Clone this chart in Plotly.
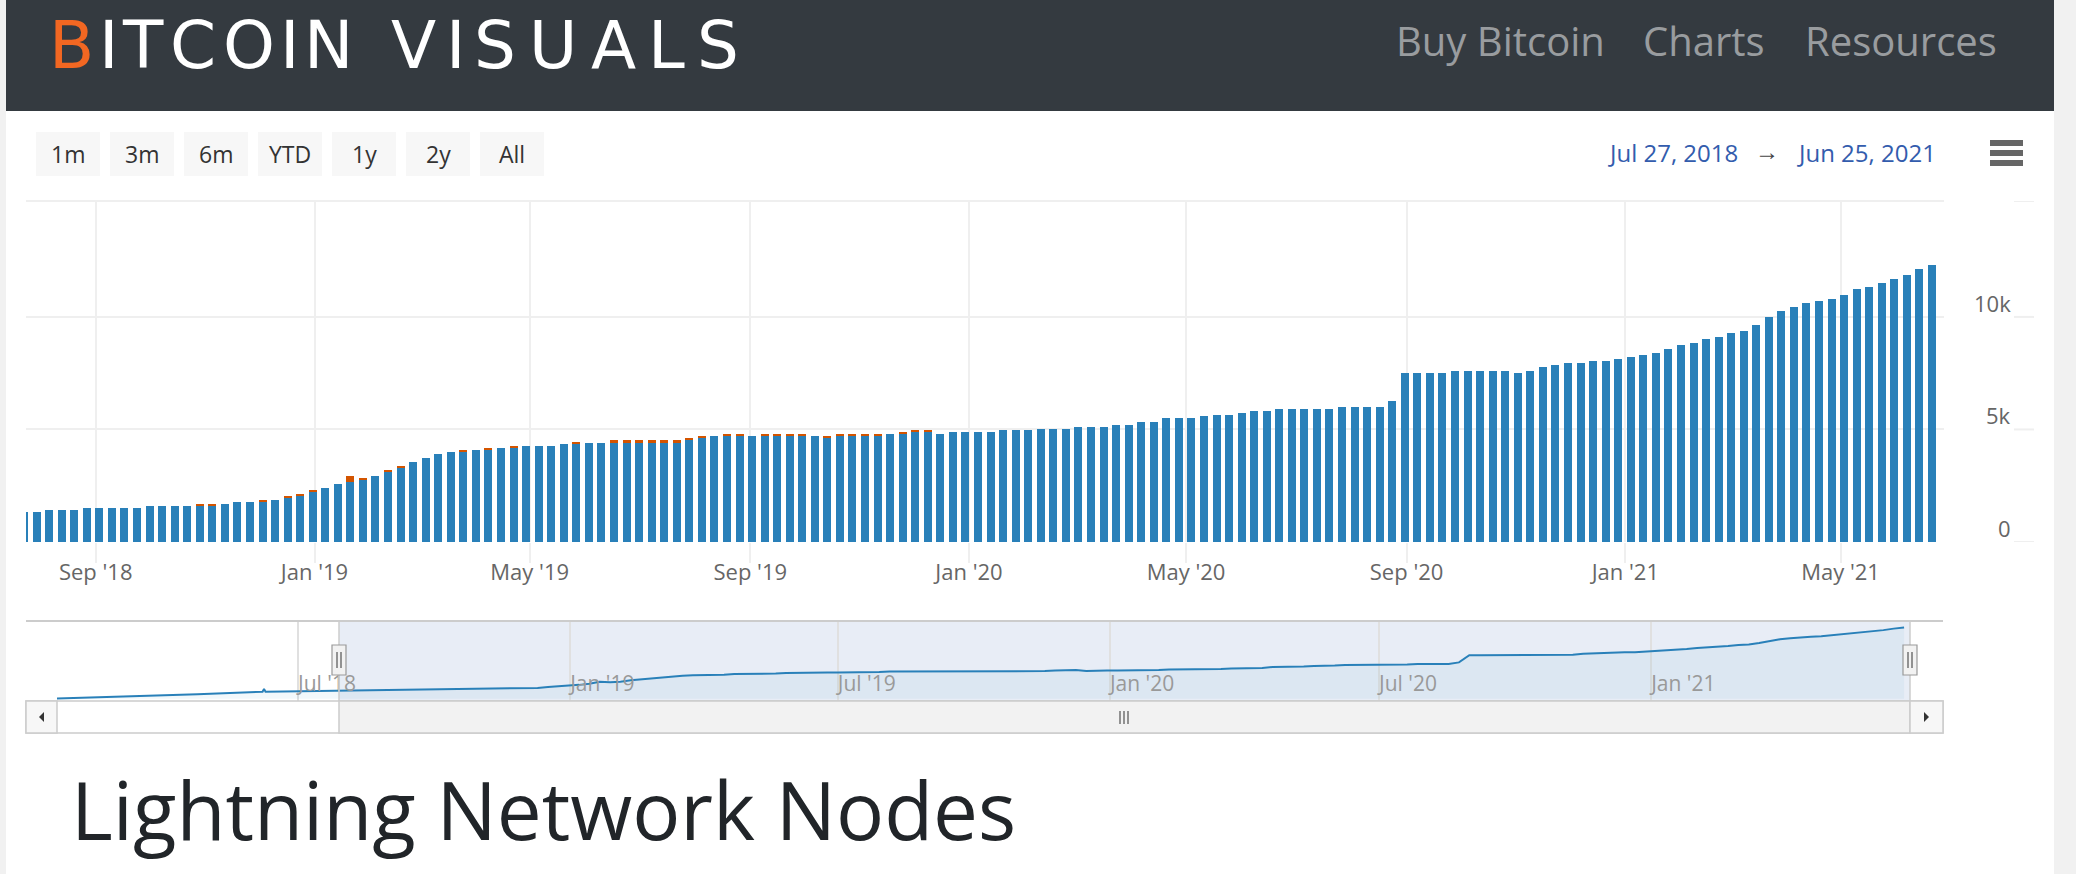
import plotly.graph_objects as go
import pandas as pd

# ---------------- data ----------------
first_week = "2018-07-23"   # Monday of the first weekly bar
n_weeks = 153

blue_nodes = [
    1330, 1330, 1420, 1420, 1420, 1500, 1500, 1500, 1500, 1500,
    1590, 1590, 1590, 1590, 1590, 1590, 1680, 1770, 1770, 1770,
    1860, 1950, 2040, 2210, 2390, 2570, 2650, 2740, 2920, 3100,
    3270, 3540, 3720, 3890, 3980, 3980, 4070, 4070, 4160, 4160,
    4250, 4250, 4250, 4340, 4340, 4420, 4420, 4420, 4420, 4420,
    4420, 4420, 4420, 4510, 4600, 4690, 4690, 4690, 4690, 4690,
    4690, 4690, 4690, 4690, 4600, 4690, 4690, 4690, 4690, 4780,
    4780, 4870, 4870, 4780, 4870, 4870, 4870, 4870, 4960, 4960,
    4960, 5040, 5040, 5040, 5130, 5130, 5130, 5220, 5220, 5310,
    5310, 5490, 5490, 5490, 5580, 5660, 5660, 5750, 5840, 5840,
    5930, 5930, 5930, 5930, 5930, 6020, 6020, 6020, 6020, 6280,
    7520, 7520, 7520, 7520, 7610, 7610, 7610, 7610, 7610, 7520,
    7610, 7790, 7880, 7970, 7970, 8050, 8050, 8140, 8230, 8320,
    8410, 8580, 8760, 8850, 9030, 9120, 9290, 9380, 9650, 10000,
    10270, 10440, 10620, 10710, 10800, 10970, 11240, 11330, 11500, 11680,
    11860, 12120, 12300,
]
orange_nodes = [
    0, 0, 0, 0, 0, 0, 0, 0, 0, 0,
    0, 0, 0, 0, 90, 90, 0, 0, 0, 90,
    0, 90, 90, 90, 0, 0, 270, 90, 0, 90,
    90, 0, 0, 0, 0, 90, 0, 90, 0, 90,
    0, 0, 0, 0, 90, 0, 0, 90, 90, 90,
    90, 90, 90, 90, 90, 0, 90, 90, 0, 90,
    90, 90, 90, 0, 90, 90, 90, 90, 90, 0,
    90, 90, 90, 0, 0, 0, 0, 0, 0, 0,
    0, 0, 0, 0, 0, 0, 0, 0, 0, 0,
    0, 0, 0, 0, 0, 0, 0, 0, 0, 0,
    0, 0, 0, 0, 0, 0, 0, 0, 0, 0,
    0, 0, 0, 0, 0, 0, 0, 0, 0, 0,
    0, 0, 0, 0, 0, 0, 0, 0, 0, 0,
    0, 0, 0, 0, 0, 0, 0, 0, 0, 0,
    0, 0, 0, 0, 0, 0, 0, 0, 0, 0,
    0, 0, 0,
]
# navigator line before the bars start (read from the navigator)
nav_pre_dates = ["2018-01-19", "2018-02-16", "2018-03-11", "2018-04-24",
                 "2018-06-07", "2018-06-08", "2018-06-09", "2018-07-01"]
nav_pre_vals = [30, 240, 350, 760, 1210, 1700, 1220, 1300]

main_tick_dates = ["2018-09-01", "2019-01-01", "2019-05-01", "2019-09-01", "2020-01-01",
                   "2020-05-01", "2020-09-01", "2021-01-01", "2021-05-01"]
main_tick_text = ["Sep '18", "Jan '19", "May '19", "Sep '19", "Jan '20",
                  "May '20", "Sep '20", "Jan '21", "May '21"]
nav_tick_dates = ["2018-07-01", "2019-01-01", "2019-07-01", "2020-01-01", "2020-07-01", "2021-01-01"]
nav_tick_text = ["Jul '18", "Jan '19", "Jul '19", "Jan '20", "Jul '20", "Jan '21"]
y_tick_vals = [0, 5000, 10000]
y_tick_text = ["0", "5k", "10k"]
y_max = 15150

range_buttons = ["1m", "3m", "6m", "YTD", "1y", "2y", "All"]
nav_links = ["Buy Bitcoin", "Charts", "Resources"]
range_from, range_to = "Jul 27, 2018", "Jun 25, 2021"
title_text = "Lightning Network Nodes"
logo_words = ["BITCOIN", "VISUALS"]

assert len(blue_nodes) == n_weeks and len(orange_nodes) == n_weeks

# ---------------- helpers ----------------
W, H = 2076, 874
def X(px): return px / W
def Y(py): return 1 - py / H

dates = pd.date_range(first_week, periods=n_weeks, freq="7D")
totals = [b + o for b, o in zip(blue_nodes, orange_nodes)]
nav_dates = list(pd.to_datetime(nav_pre_dates)) + list(dates)
nav_vals = nav_pre_vals + totals

BAR_MS = 8 / 1.7932 * 86400000  # 8 px wide columns

BLUE = "#2980b9"
ORANGE = "#d35400"
GRID = "#efefef"
FONT = "Open Sans"

fig = go.Figure()
fig.add_bar(x=dates, y=blue_nodes, width=BAR_MS, marker=dict(color=BLUE, line=dict(width=0)),
            xaxis="x", yaxis="y", hoverinfo="skip")
fig.add_bar(x=dates, y=orange_nodes, width=BAR_MS, marker=dict(color=ORANGE, line=dict(width=0)),
            xaxis="x", yaxis="y", hoverinfo="skip")
fig.add_scatter(x=nav_dates, y=nav_vals, mode="lines", line=dict(color=BLUE, width=2),
                fill="tozeroy", fillcolor="rgba(41,128,185,0.06)",
                xaxis="x2", yaxis="y3", hoverinfo="skip")

shapes = []
def rect(x0, y0, x1, y1, fill, line_color=None, lw=0, layer="below"):
    shapes.append(dict(type="rect", xref="paper", yref="paper",
                       x0=X(x0), x1=X(x1), y0=Y(y1), y1=Y(y0),
                       fillcolor=fill, layer=layer,
                       line=dict(color=line_color or fill, width=lw)))
def hline(x0, x1, y, color, w, layer="below"):
    shapes.append(dict(type="line", xref="paper", yref="paper", x0=X(x0), x1=X(x1),
                       y0=Y(y), y1=Y(y), line=dict(color=color, width=w), layer=layer))
def vline(x, y0, y1, color, w, layer="below"):
    shapes.append(dict(type="line", xref="paper", yref="paper", x0=X(x), x1=X(x),
                       y0=Y(y0), y1=Y(y1), line=dict(color=color, width=w), layer=layer))

# page chrome
rect(0, 0, 6, 874, "#f1f1f1")
rect(2054, 0, 2076, 874, "#f1f1f1")
rect(6, 0, 2054, 111, "#343a40")

# range selector buttons
btn_x = [36, 110, 184, 258, 332, 406, 480]
for bx in btn_x:
    rect(bx, 132, bx + 64, 176, "#f7f7f7")

# hamburger menu
for hy in (140, 150, 160):
    rect(1990, hy, 2023, hy + 6, "#666666")

# main plot top border grid line
hline(26, 1944, 201, GRID, 2)
# short grid stubs right of the y labels
for v in y_tick_vals + [y_max]:
    shapes.append(dict(type="line", xref="paper", yref="y", x0=X(2014), x1=X(2034),
                       y0=v, y1=v, line=dict(color=GRID, width=2), layer="below"))

# navigator
rect(339, 621, 1910, 701, "rgba(102,133,194,0.15)")
hline(26, 1943, 621, "#cccccc", 2, layer="above")
vline(339, 621, 733, "#cccccc", 1.5, layer="above")
vline(1910, 621, 733, "#cccccc", 1.5, layer="above")
# scrollbar
rect(26, 701, 1943, 733, "#ffffff", "#cccccc", 1.5, layer="above")
rect(339, 701, 1910, 733, "#f2f2f2", "#cccccc", 1.5, layer="above")
rect(26, 701, 57, 733, "#f7f7f7", "#cccccc", 1.5, layer="above")
rect(1910, 701, 1943, 733, "#f7f7f7", "#cccccc", 1.5, layer="above")
shapes.append(dict(type="path", xref="paper", yref="paper", layer="above",
                   path=f"M {X(39)} {Y(717)} L {X(44)} {Y(712)} L {X(44)} {Y(722)} Z",
                   fillcolor="#333333", line=dict(width=0)))
shapes.append(dict(type="path", xref="paper", yref="paper", layer="above",
                   path=f"M {X(1929)} {Y(717)} L {X(1924)} {Y(712)} L {X(1924)} {Y(722)} Z",
                   fillcolor="#333333", line=dict(width=0)))
for gx in (1120, 1124, 1128):
    vline(gx, 711, 724, "#333333", 1, layer="above")
# handles
for hx in (339, 1910):
    rect(hx - 7, 645, hx + 7, 675, "#f2f2f2", "#999999", 1.2, layer="above")
    vline(hx - 2, 652, 668, "#333333", 1, layer="above")
    vline(hx + 2, 652, 668, "#333333", 1, layer="above")

annotations = []
def text(t, x, y, size, color, xanchor="left", family=FONT):
    annotations.append(dict(text=t, x=X(x), y=Y(y), xref="paper", yref="paper",
                            xanchor=xanchor, yanchor="middle", showarrow=False,
                            font=dict(family=family, size=size, color=color)))

# logo, letter by letter to mimic the wide logotype
adv = {"B": .686, "I": .295, "T": .611, "C": .698, "O": .787, "N": .748,
       "V": .684, "S": .635, "U": .732, "A": .684, "L": .557}
LOGO_FS = 66
spans = [(46, 357), (384, 745)]
for word, (sx0, sx1) in zip(logo_words, spans):
    nat = sum(adv[c] for c in word) * LOGO_FS
    s = (sx1 - sx0) / nat
    cum = 0
    for i, c in enumerate(word):
        cx = sx0 + s * (cum + adv[c] / 2) * LOGO_FS
        cum += adv[c]
        color = "#f26722" if (word == "BITCOIN" and i == 0) else "#ffffff"
        text(c, cx, 45.5, LOGO_FS, color, xanchor="center", family="DejaVu Sans")

# nav links
for t, lx in zip(nav_links, [1394, 1641, 1803]):
    text(t, lx, 40.5, 40, "#999c9f")

# range buttons text
for t, bx in zip(range_buttons, btn_x):
    text(t, bx + 32, 154, 23, "#333333", xanchor="center")

# date range
text(range_from, 1606, 152.7, 24, "#335cad")
text("→", 1767, 150, 24, "#444444", xanchor="center")
text(range_to, 1795, 152.7, 24, "#335cad")

# page title
text(title_text, 69, 808.6, 80, "#212529")

# y-axis labels (right side, right-aligned above the grid lines)
for v, t in zip(y_tick_vals, y_tick_text):
    annotations.append(dict(text=t, x=X(2013), y=v, xref="paper", yref="y",
                            xanchor="right", yanchor="bottom", yshift=-3, showarrow=False,
                            font=dict(family=FONT, size=22, color="#666666")))

fig.update_layout(
    width=W, height=H, margin=dict(l=0, r=0, t=0, b=0),
    paper_bgcolor="#ffffff", plot_bgcolor="rgba(0,0,0,0)",
    barmode="stack", showlegend=False, hovermode=False,
    font=dict(family=FONT),
    shapes=shapes, annotations=annotations,
    xaxis=dict(type="date", domain=[X(26), X(1944)],
               range=["2018-07-24 02:46", "2021-06-27 16:36"], anchor="y",
               tickmode="array", tickvals=main_tick_dates, ticktext=main_tick_text,
               showgrid=True, gridcolor=GRID, gridwidth=2, zeroline=False, showline=False,
               ticks="outside", ticklen=20, tickwidth=2, tickcolor=GRID,
               ticklabelstandoff=-9,
               tickfont=dict(size=22, color="#666666", family=FONT)),
    yaxis=dict(domain=[Y(542), Y(201)], range=[0, y_max], anchor="x",
               tickmode="array", tickvals=y_tick_vals, showticklabels=False,
               showgrid=True, gridcolor=GRID, gridwidth=2, zeroline=False, showline=False),
    xaxis2=dict(type="date", domain=[X(57), X(1910)], range=["2018-01-19", "2021-06-25"],
                anchor="y3", tickmode="array", tickvals=nav_tick_dates, ticktext=nav_tick_text,
                showgrid=True, gridcolor="#e0e0e0", gridwidth=1.5, zeroline=False, showline=False,
                ticks="", ticklabelposition="inside right",
                tickfont=dict(size=21, color="#999999", family=FONT)),
    yaxis3=dict(domain=[Y(701), Y(621)], range=[-400, 13440], anchor="x2", visible=False),
)

fig.write_html("out.html", config={"displayModeBar": False},
               post_script="document.body.style.margin='0px';document.body.style.overflow='hidden';")
